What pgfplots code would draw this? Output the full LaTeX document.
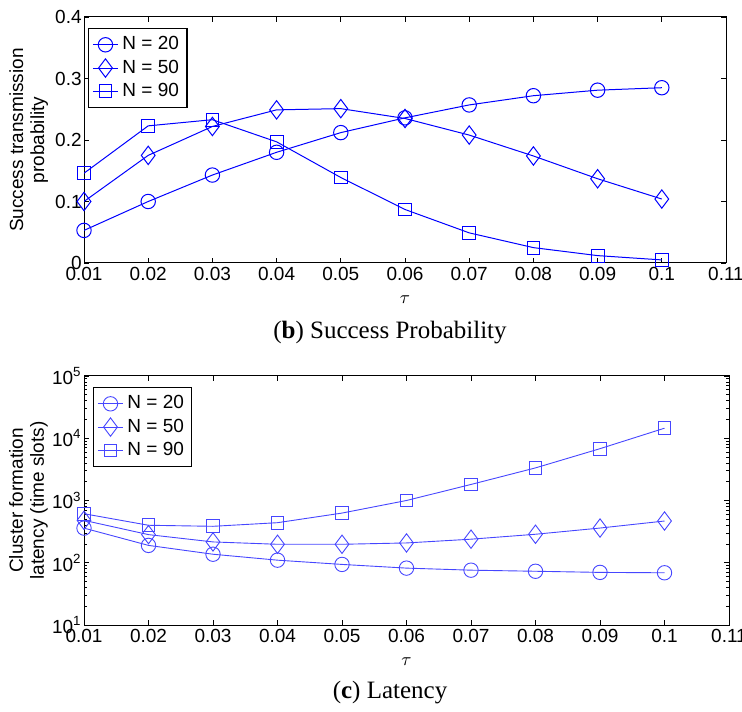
\documentclass[border=0pt]{standalone}
\usepackage{fontspec}
\setmainfont{Liberation Sans}
\newfontfamily\capfont{Liberation Serif}
\usepackage{pgfplots}
\pgfplotsset{compat=1.18}
\definecolor{lblue}{RGB}{70,70,255}
\begin{document}
\begin{tikzpicture}
\useasboundingbox (0,0) rectangle (371pt,355.5pt);
\pgfplotsset{
  common/.style={
    scale only axis,
    anchor=south west,
    xmin=0.01, xmax=0.11,
    xtick={0.01,0.02,0.03,0.04,0.05,0.06,0.07,0.08,0.09,0.1,0.11},
    xticklabels={0.01,0.02,0.03,0.04,0.05,0.06,0.07,0.08,0.09,0.1,0.11},
    tick align=inside,
    major tick length=2.5pt,
    minor tick length=1.5pt,
    tick style={black, line width=0.4pt},
    axis line style={line width=0.5pt},
    tick label style={font=\fontsize{9.5}{10}\selectfont},
    yticklabel style={inner sep=1pt},
    xticklabel style={inner sep=2pt},
    label style={font=\fontsize{9.5}{10.5}\selectfont},
    xlabel={$\tau$},
    legend cell align=left,
    legend style={font=\fontsize{9.5}{10}\selectfont, draw=black, line width=0.6pt,
      row sep=-0.5pt, inner sep=2pt},
    legend image code/.code={\draw[mark repeat=2,mark phase=2] plot coordinates {(0cm,0cm) (0.22cm,0cm) (0.44cm,0cm)};},
  }
}
\begin{axis}[common,
  at={(42pt,224pt)},
  width=321pt, height=123pt,
  ymin=0, ymax=0.4,
  ytick={0,0.1,0.2,0.3,0.4},
  yticklabels={0,0.1,0.2,0.3,0.4},
  ylabel style={align=center, at={(axis description cs:-0.086,0.5)}, anchor=center},
  ylabel={Success transmission\\probability},
  xlabel style={at={(axis description cs:0.5,0)}, anchor=north, yshift=-13pt},
  legend style={at={(axis description cs:0.006,0.955)}, anchor=north west},
  every axis plot/.append style={blue, line width=0.5pt, mark options={solid, line width=0.5pt}},
]
\addplot[mark=o, mark size=3.6pt] coordinates {
(0.01,0.053) (0.02,0.100) (0.03,0.143) (0.04,0.180) (0.05,0.212)
(0.06,0.236) (0.07,0.257) (0.08,0.272) (0.09,0.281) (0.1,0.285)};
\addplot[mark=diamond, mark size=4.6pt] coordinates {
(0.01,0.100) (0.02,0.175) (0.03,0.222) (0.04,0.249) (0.05,0.251)
(0.06,0.235) (0.07,0.208) (0.08,0.174) (0.09,0.137) (0.1,0.104)};
\addplot[mark=square, mark size=3.2pt] coordinates {
(0.01,0.146) (0.02,0.223) (0.03,0.233) (0.04,0.197) (0.05,0.139)
(0.06,0.087) (0.07,0.049) (0.08,0.025) (0.09,0.012) (0.1,0.005)};
\legend{N = 20, N = 50, N = 90}
\end{axis}
\node[font=\capfont\fontsize{12.5}{14}\selectfont] at (195pt,189pt) {(\textbf{b}) Success Probability};

\begin{axis}[common,
  ymode=log,
  at={(42pt,43pt)},
  width=322.5pt, height=124.5pt,
  ymin=10, ymax=100000,
  ytick={10,100,1000,10000,100000},
  yticklabels={10\textsuperscript{1},10\textsuperscript{2},10\textsuperscript{3},10\textsuperscript{4},10\textsuperscript{5}},
  ylabel style={align=center, at={(axis description cs:-0.086,0.5)}, anchor=center},
  ylabel={Cluster formation\\latency  (time slots)},
  xlabel style={at={(axis description cs:0.5,0)}, anchor=north, yshift=-13pt},
  legend style={at={(axis description cs:0.014,0.955)}, anchor=north west, line width=0.5pt},
  every axis plot/.append style={lblue, line width=0.45pt, mark options={solid, line width=0.45pt}},
]
\addplot[mark=o, mark size=3.6pt] coordinates {
(0.01,360) (0.02,190) (0.03,137) (0.04,110) (0.05,94)
(0.06,82) (0.07,76) (0.08,73) (0.09,70) (0.1,69)};
\addplot[mark=diamond, mark size=4.6pt] coordinates {
(0.01,480) (0.02,283) (0.03,216) (0.04,198) (0.05,198)
(0.06,208) (0.07,239) (0.08,287) (0.09,361) (0.1,468)};
\addplot[mark=square, mark size=3.2pt] coordinates {
(0.01,613) (0.02,400) (0.03,385) (0.04,440) (0.05,628)
(0.06,1000) (0.07,1810) (0.08,3340) (0.09,6800) (0.1,14500)};
\legend{N = 20, N = 50, N = 90}
\end{axis}
\node[font=\capfont\fontsize{12.5}{14}\selectfont] at (195pt,9pt) {(\textbf{c}) Latency};
\end{tikzpicture}
\end{document}
